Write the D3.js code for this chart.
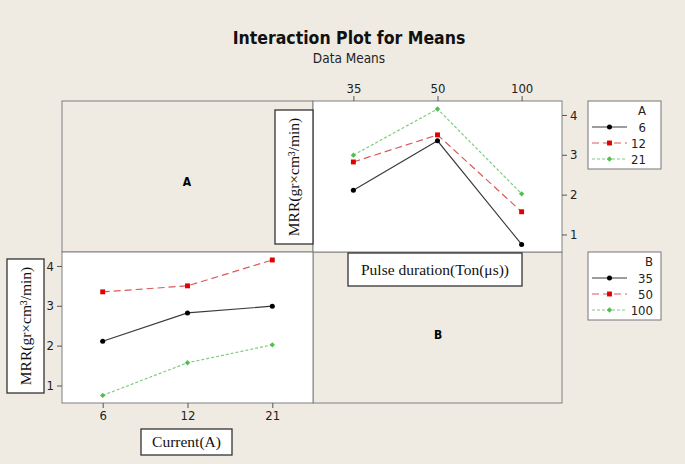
<!DOCTYPE html>
<html>
<head>
<meta charset="utf-8">
<script src="https://cdn.jsdelivr.net/npm/d3@7"></script>
<style>
  body { margin: 0; background: #efebe2; }
  svg { display: block; }
</style>
</head>
<body>
<div class="chart"></div>
<script>
// factor levels
const current = [6, 12, 21];
const pulse = [35, 50, 100];
// MRR means for each current level, across pulse duration 35 / 50 / 100
const mrrA6 = [2.11, 3.35, 0.75];
const mrrA12 = [2.82, 3.50, 1.57];
const mrrA21 = [2.99, 4.15, 2.02];
const yTicks = [1, 2, 3, 4];

const width = 685, height = 464;
const sans = "'DejaVu Sans Condensed', 'DejaVu Sans', sans-serif";
const serif = "'Liberation Serif', 'DejaVu Serif', serif";

const svg = d3.select('.chart')
    .append('svg')
    .attr('width', width)
    .attr('height', height)

svg.append('rect').attr('width', width).attr('height', height).attr('fill', '#efebe2')

// grid of panels
const L = 62, M = 313, R = 562, T = 101, MY = 252, B = 403;

const styles = [
    {line: '#3a3a3a', mark: '#000', dash: null, shape: d3.symbolCircle, size: 20},
    {line: '#d95b5b', mark: '#e00000', dash: '7,4', shape: d3.symbolSquare, size: 24},
    {line: '#80cc80', mark: '#4fbf4f', dash: '3,2', shape: d3.symbolDiamond2, size: 18}
];

svg.append('text').attr('x', 349).attr('y', 44)
    .attr('text-anchor', 'middle').attr('font-family', sans)
    .attr('font-weight', 'bold').attr('font-size', 17.5).attr('fill', '#111')
    .text('Interaction Plot for Means')
svg.append('text').attr('x', 349).attr('y', 63)
    .attr('text-anchor', 'middle').attr('font-family', sans)
    .attr('font-size', 13.5).attr('fill', '#222')
    .text('Data Means')

// panel backgrounds
svg.append('rect').attr('x', L).attr('y', T).attr('width', M - L).attr('height', MY - T)
    .attr('fill', '#efebe2').attr('stroke', '#808080')
svg.append('rect').attr('x', M).attr('y', MY).attr('width', R - M).attr('height', B - MY)
    .attr('fill', '#efebe2').attr('stroke', '#808080')
svg.append('rect').attr('x', M).attr('y', T).attr('width', R - M).attr('height', MY - T)
    .attr('fill', '#fff').attr('stroke', '#808080')
svg.append('rect').attr('x', L).attr('y', MY).attr('width', M - L).attr('height', B - MY)
    .attr('fill', '#fff').attr('stroke', '#808080')

svg.append('text').attr('x', 187).attr('y', 186).attr('text-anchor', 'middle')
    .attr('font-family', sans).attr('font-weight', 'bold').attr('font-size', 12).text('A')
svg.append('text').attr('x', 438).attr('y', 339).attr('text-anchor', 'middle')
    .attr('font-family', sans).attr('font-weight', 'bold').attr('font-size', 12).text('B')

const yDomain = [0.56, 4.35];

function drawPanel(levels, series, x0, x1, y0, y1) {
    const x = d3.scalePoint().domain(levels).range([x0, x1]).padding(0.48)
    const y = d3.scaleLinear().domain(yDomain).range([y1, y0])
    const g = svg.append('g')
    const line = d3.line().x((d, i) => x(levels[i])).y(d => y(d))
    series.forEach((vals, k) => {
        const s = styles[k]
        g.append('path').datum(vals).attr('d', line)
            .attr('fill', 'none').attr('stroke', s.line).attr('stroke-width', 1.2)
            .attr('stroke-dasharray', s.dash)
        g.selectAll('.m' + k).data(vals).enter()
            .append('path').attr('class', 'm' + k)
            .attr('transform', (d, i) => `translate(${x(levels[i])},${y(d)})`)
            .attr('d', d3.symbol().type(s.shape).size(s.size))
            .attr('fill', s.mark)
    })
    return {x, y}
}

function styleAxis(a) {
    a.select('.domain').remove()
    a.selectAll('line').attr('stroke', '#555')
    a.selectAll('text').attr('font-family', sans).attr('font-size', 13).attr('fill', '#222')
}

// top right: MRR vs pulse duration, one line per current level
const tr = drawPanel(pulse, [mrrA6, mrrA12, mrrA21], M, R, T, MY)
// bottom left: MRR vs current, one line per pulse level
const byPulse = pulse.map((p, j) => [mrrA6[j], mrrA12[j], mrrA21[j]])
const bl = drawPanel(current, byPulse, L, M, MY, B)

// framed axis titles
function labelBox(x, y, w, h, text, rotate) {
    svg.append('rect').attr('x', x).attr('y', y).attr('width', w).attr('height', h)
        .attr('fill', '#fff').attr('stroke', '#333').attr('stroke-width', 1.3)
    const cx = x + w / 2, cy = y + h / 2
    svg.append('text')
        .attr('transform', rotate ? `translate(${cx + 5},${cy}) rotate(-90)` : `translate(${cx},${cy + 5})`)
        .attr('text-anchor', 'middle').attr('font-family', serif).attr('font-size', 15.5)
        .attr('fill', '#111').text(text)
}
labelBox(275, 110, 38, 134, 'MRR(gr×cm³/min)', true)
labelBox(7, 259, 37, 134, 'MRR(gr×cm³/min)', true)
labelBox(348, 253, 174, 33, 'Pulse duration(Ton(μs))', false)
labelBox(141, 429, 91, 26, 'Current(A)', false)

svg.append('g').attr('transform', `translate(0,${T})`)
    .call(d3.axisTop(tr.x).tickSize(5).tickPadding(3)).call(styleAxis)
svg.append('g').attr('transform', `translate(${R},0)`)
    .call(d3.axisRight(tr.y).tickValues(yTicks).tickFormat(d3.format('d')).tickSize(5).tickPadding(3))
    .call(styleAxis)
svg.append('g').attr('transform', `translate(0,${B})`)
    .call(d3.axisBottom(bl.x).tickSize(5).tickPadding(3)).call(styleAxis)
svg.append('g').attr('transform', `translate(${L},0)`)
    .call(d3.axisLeft(bl.y).tickValues(yTicks).tickFormat(d3.format('d')).tickSize(5).tickPadding(3))
    .call(styleAxis)

// legends
function legend(y, title, labels, textX) {
    const g = svg.append('g')
    g.append('rect').attr('x', 588).attr('y', y).attr('width', 73).attr('height', 68)
        .attr('fill', '#fff').attr('stroke', '#777')
    g.append('text').attr('x', textX).attr('y', y + 14).attr('text-anchor', 'end')
        .attr('font-family', sans).attr('font-size', 13).attr('fill', '#222').text(title)
    const rows = g.selectAll('.row').data(labels).enter().append('g')
        .attr('transform', (d, i) => `translate(0,${y + 26 + i * 16})`)
    rows.append('line').attr('x1', 592).attr('x2', 627)
        .attr('stroke', (d, i) => styles[i].line).attr('stroke-width', 1.2)
        .attr('stroke-dasharray', (d, i) => styles[i].dash)
    rows.append('path').attr('transform', 'translate(609.5,0)')
        .attr('d', (d, i) => d3.symbol().type(styles[i].shape).size(styles[i].size)())
        .attr('fill', (d, i) => styles[i].mark)
    rows.append('text').attr('x', textX).attr('y', 5).attr('text-anchor', 'end')
        .attr('font-family', sans).attr('font-size', 13).attr('fill', '#222').text(d => d)
}
legend(101, 'A', current, 646)
legend(252, 'B', pulse, 653)
</script>
</body>
</html>
